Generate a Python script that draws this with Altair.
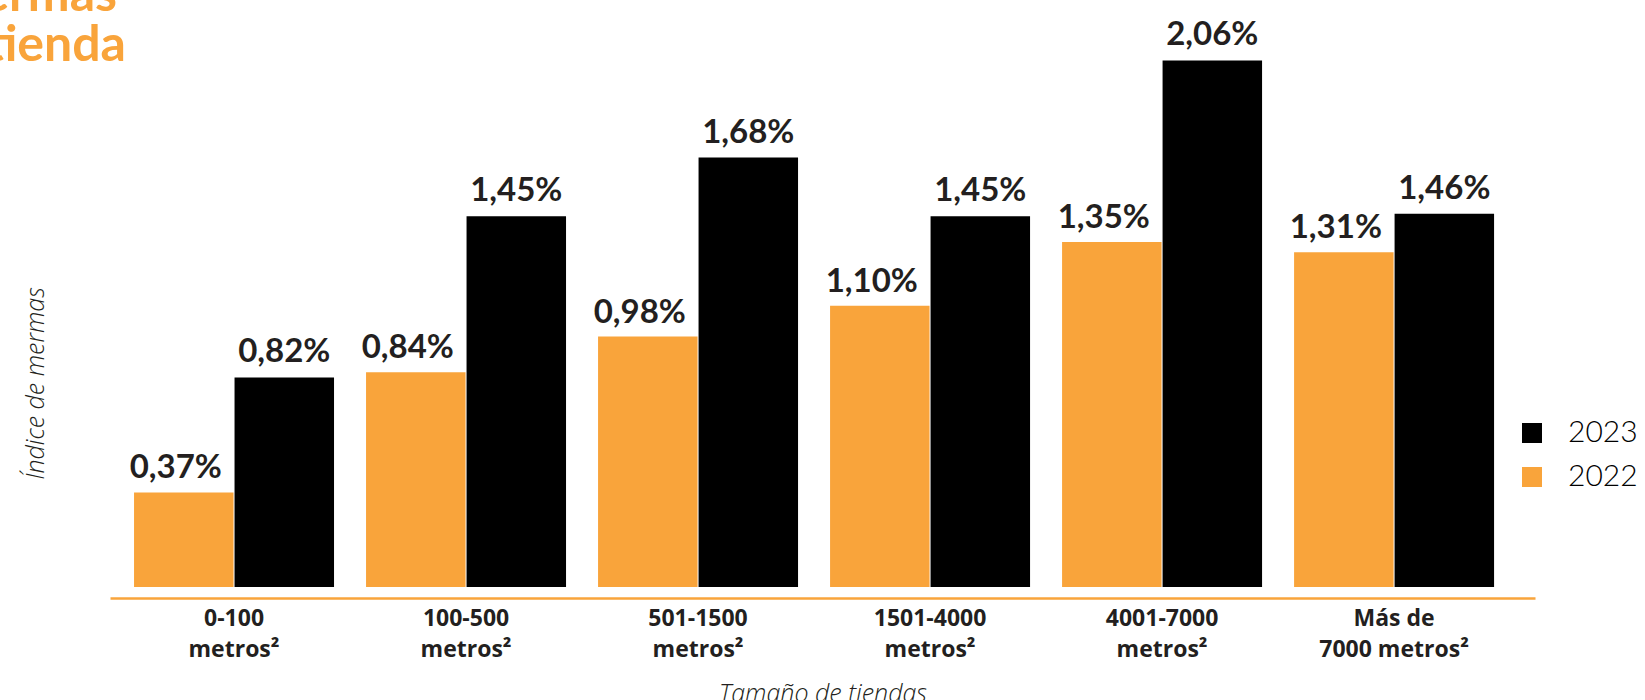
import altair as alt
import pandas as pd

categories = ["0-100|metros²", "100-500|metros²", "501-1500|metros²",
              "1501-4000|metros²", "4001-7000|metros²", "Más de|7000 metros²"]
years = ["2022", "2023"]
values_2022 = [0.37, 0.84, 0.98, 1.10, 1.35, 1.31]
values_2023 = [0.82, 1.45, 1.68, 1.45, 2.06, 1.46]

ORANGE = "#F9A43B"
BLACK = "#000000"
TEXT = "#231F20"
FONT = "Lato"
FONT2 = "Open Sans"

rows = []
for c, a, b in zip(categories, values_2022, values_2023):
    rows.append({"cat": c, "year": "2022", "v": a})
    rows.append({"cat": c, "year": "2023", "v": b})
df = pd.DataFrame(rows)
df["label"] = df["v"].map(lambda v: f"{v:.2f}".replace(".", ",") + "%")

W, H = 1425, 547

x_enc = alt.X("cat:N", sort=categories,
              scale=alt.Scale(paddingInner=0.138, paddingOuter=0.14, align=0.37),
              axis=alt.Axis(title="Tamaño de tiendas", labelAngle=0,
                            labelExpr="split(datum.label, '|')",
                            labelFont=FONT2, labelFontSize=23, labelFontWeight="bold",
                            labelColor=TEXT, labelLineHeight=31, labelPadding=9,
                            ticks=False, domainColor=ORANGE, domainWidth=2.5,
                            offset=11, titleFont=FONT2, titleFontSize=25,
                            titleFontStyle="italic", titleFontWeight=300,
                            titleColor=TEXT, titlePadding=20))
y_enc = alt.Y("v:Q", scale=alt.Scale(domain=[0, 2.14], nice=False, zero=True),
              axis=alt.Axis(title="Índice de mermas", labels=False, ticks=False,
                            domain=False, grid=False, titleFont=FONT2, titleFontSize=25,
                            titleFontStyle="italic", titleFontWeight=300,
                            titleColor=TEXT, titleX=-75, titleY=343,
                            titleBaseline="middle"))
xo = alt.XOffset("year:N", scale=alt.Scale(domain=years, paddingInner=0.01))

base = alt.Chart(df)

bars = base.mark_bar().encode(
    x=x_enc, y=y_enc, xOffset=xo,
    color=alt.Color("year:N",
                    scale=alt.Scale(domain=["2023", "2022"], range=[BLACK, ORANGE]),
                    legend=alt.Legend(title=None, orient="none", legendX=1407, legendY=378,
                                      symbolType="square", symbolSize=400,
                                      symbolStrokeWidth=0, labelFont=FONT,
                                      labelFontSize=30, labelFontWeight=300,
                                      labelColor="#000000", labelOffset=21, rowPadding=14)),
)

labels_2022 = base.transform_filter(alt.datum.year == "2022").mark_text(
    baseline="alphabetic", dy=-14, dx=-8, font=FONT, fontSize=33, fontWeight="bold", color=TEXT
).encode(x=alt.X("cat:N", sort=categories), y="v:Q", xOffset=xo, text="label:N")

labels_2023 = base.transform_filter(alt.datum.year == "2023").mark_text(
    baseline="alphabetic", dy=-15, font=FONT, fontSize=33, fontWeight="bold", color=TEXT
).encode(x=alt.X("cat:N", sort=categories), y="v:Q", xOffset=xo, text="label:N")

title_df = pd.DataFrame({"t": ["Índice de mermas", "por tamaño de tienda"], "line": [0, 1]})
title1 = alt.Chart(title_df).transform_filter(alt.datum.line == 0).mark_text(
    align="right", baseline="alphabetic", font=FONT, fontSize=50, fontWeight="bold",
    color=ORANGE
).encode(x=alt.value(7), y=alt.value(-29), text="t:N")
title2 = alt.Chart(title_df).transform_filter(alt.datum.line == 1).mark_text(
    align="right", baseline="alphabetic", font=FONT, fontSize=50, fontWeight="bold",
    color=ORANGE
).encode(x=alt.value(16), y=alt.value(21), text="t:N")

chart = alt.layer(bars, labels_2022, labels_2023, title1, title2).properties(
    width=W, height=H,
    autosize=alt.AutoSizeParams(type="none"),
    padding={"left": 110, "top": 40, "right": 110, "bottom": 113},
).configure(background="white").configure_view(stroke=None, strokeWidth=0)

chart.save("out.html", embed_options={"renderer": "svg", "actions": False})
